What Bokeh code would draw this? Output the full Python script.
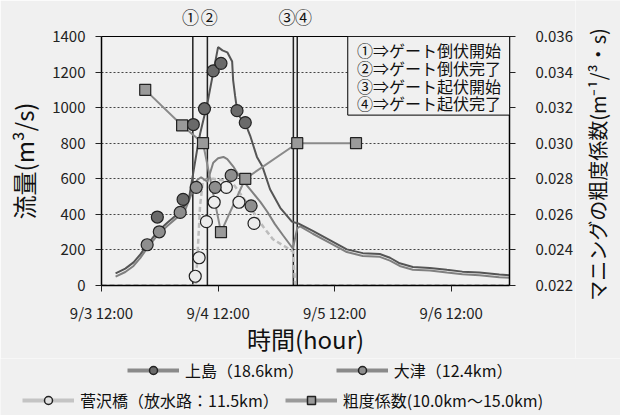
import math
from bokeh.plotting import figure
from bokeh.layouts import column, row
from bokeh.models import (Range1d, LinearAxis, FixedTicker, NumeralTickFormatter,
                          Label, BoxAnnotation, Legend, LegendItem)
from bokeh.embed import file_html
from bokeh.resources import INLINE

FONT = "Noto Sans CJK JP"
BG = "#f0f0f0"

# x = hours since 9/3 00:00
x_ticks = [12, 36, 60, 84]
x_tick_labels = ["9/3 12:00", "9/4 12:00", "9/5 12:00", "9/6 12:00"]
q_ticks = [0, 200, 400, 600, 800, 1000, 1200, 1400]
n_ticks = [0.022, 0.024, 0.026, 0.028, 0.030, 0.032, 0.034, 0.036]

gate_times = [30.8, 33.8, 51.5, 52.3]
gate_marks = ["①", "②", "③", "④"]
gate_notes = ["①⇒ゲート倒伏開始", "②⇒ゲート倒伏完了", "③⇒ゲート起伏開始", "④⇒ゲート起伏完了"]

series_names = ["上島（18.6km）", "大津（12.4km）", "菅沢橋（放水路：11.5km）", "粗度係数(10.0km～15.0km)"]
right_title = "マニングの粗度係数(m⁻¹/³・s)"

# computed discharge (lines)
kami_t = [14.9, 16.9, 18.6, 20.0, 21.4, 23.5, 25.6, 27.6, 29.3, 30.1, 30.9, 31.7, 32.3, 33.8, 35.0,
          36.0, 36.9, 37.9, 38.9, 39.1, 39.5, 39.9, 40.5, 41.6, 42.6, 44.0, 45.1, 46.7, 48.8, 51.2,
          52.5, 55.5, 59.0, 62.5, 65.8, 69.3, 71.4, 73.4, 76.1, 79.6, 83.1, 86.3, 89.8, 93.9, 96.0]
kami_q = [68, 95, 130, 175, 229, 302, 354, 401, 453, 505, 635, 765, 853, 1025, 1197,
          1340, 1322, 1311, 1259, 1155, 1067, 989, 947, 911, 843, 723, 671, 541, 437, 359,
          349, 307, 255, 203, 182, 177, 156, 125, 104, 99, 88, 78, 73, 62, 57]

otsu_t = [14.9, 16.9, 18.6, 20.0, 21.4, 23.5, 25.6, 27.6, 29.3, 30.7, 31.7, 32.5, 33.8, 35.0, 36.0,
          37.1, 37.9, 39.1, 40.5, 42.6, 44.7, 46.1, 47.7, 49.4, 51.4, 52.3, 52.9, 55.5, 59.0, 62.5,
          65.8, 69.3, 71.4, 73.4, 76.1, 79.6, 83.1, 86.3, 89.8, 93.9, 96.0]
otsu_q = [50, 76, 110, 155, 210, 282, 336, 383, 430, 526, 593, 609, 583, 690, 715,
          723, 710, 670, 610, 540, 470, 416, 345, 281, 208, 322, 333, 291, 240, 188,
          166, 161, 140, 110, 89, 84, 73, 63, 58, 47, 43]

suga_t = [12.0, 31.4, 31.8, 32.3, 32.9, 35.0, 37.1, 39.1, 41.0, 43.2, 45.3, 47.3, 49.4, 51.4, 51.9, 96.0]
suga_q = [0, 0, 190, 450, 593, 600, 590, 572, 500, 416, 330, 260, 225, 192, 0, 0]

# observed discharge (markers)
kami_obs_t = [23.5, 28.8, 30.9, 33.2, 35.0, 36.6, 39.9, 41.6]
kami_obs_q = [385, 484, 905, 994, 1207, 1249, 983, 916]
otsu_obs_t = [21.4, 23.9, 28.2, 31.5, 35.4, 38.7, 42.8]
otsu_obs_q = [229, 302, 411, 552, 552, 619, 448]
suga_obs_t = [31.3, 32.1, 33.6, 35.2, 37.7, 40.3, 43.4]
suga_obs_q = [52, 156, 359, 468, 552, 468, 349]

# Manning roughness (right axis)
rough_t = [21.0, 28.6, 32.9, 36.6, 41.6, 52.3, 64.4]
rough_n = [0.0330, 0.0310, 0.0300, 0.0250, 0.0280, 0.0300, 0.0300]


def no_frame_align(fig):
    if "frame_align" in fig.properties():
        fig.frame_align = False


PW, RW, H = 575, 45, 358
p = figure(width=PW, height=H, output_backend="svg", toolbar_location=None,
           x_range=Range1d(12, 96), y_range=Range1d(0, 1400),
           min_border_left=101, min_border_right=PW - 510, min_border_top=28, min_border_bottom=H - 297,
           background_fill_color=BG, border_fill_color=BG)
no_frame_align(p)
p.extra_y_ranges = {"n": Range1d(0.022, 0.036)}
p.outline_line_color = "black"
p.outline_line_width = 1

# axes
p.xaxis.ticker = FixedTicker(ticks=x_ticks)
p.xaxis.major_label_overrides = dict(zip(x_ticks, x_tick_labels))
p.xaxis.axis_label = "時間(hour)"
p.yaxis.ticker = FixedTicker(ticks=q_ticks)
p.yaxis.axis_label = "流量(m³/s)"
raxis = LinearAxis(y_range_name="n", ticker=FixedTicker(ticks=n_ticks),
                   formatter=NumeralTickFormatter(format="0.000"))
p.add_layout(raxis, "right")
for ax in [p.xaxis[0], p.yaxis[0], raxis]:
    ax.axis_line_color = "black"
    ax.axis_line_width = 1.5
    ax.major_tick_in = 0
    ax.major_tick_out = 6
    ax.major_tick_line_color = "#222"
    ax.minor_tick_line_color = None
    ax.major_label_text_font = FONT
    ax.major_label_text_font_size = "15px"
    ax.major_label_text_color = "#222"
    ax.major_label_standoff = 10
    ax.axis_label_text_font = FONT
    ax.axis_label_text_font_style = "normal"
    ax.axis_label_text_color = "#111"
p.xaxis.axis_label_text_font_size = "24px"
p.xaxis.axis_label_standoff = -5
p.yaxis.axis_label_text_font_size = "24px"
p.yaxis.axis_label_standoff = 8
raxis.major_label_standoff = 20

# gate marks above the frame
mark_offsets = [-0.5, 0.4, -1.3, 1.3]
top_axis = LinearAxis(ticker=FixedTicker(ticks=[t + o for t, o in zip(gate_times, mark_offsets)]))
top_axis.major_label_overrides = {t + o: m for t, o, m in zip(gate_times, mark_offsets, gate_marks)}
top_axis.axis_line_color = None
top_axis.major_tick_line_color = None
top_axis.minor_tick_line_color = None
top_axis.major_label_standoff = 2
top_axis.major_label_text_font = FONT
top_axis.major_label_text_font_size = "17px"
top_axis.major_label_text_color = "#111"
p.add_layout(top_axis, "above")

p.xgrid.visible = False
p.ygrid.ticker = FixedTicker(ticks=q_ticks)
p.ygrid.grid_line_color = "#444"
p.ygrid.grid_line_dash = "2 2"
p.ygrid.grid_line_width = 1

# gate timing lines
p.segment(x0=gate_times, y0=0, x1=gate_times, y1=1400, line_color="#222", line_width=1.5)

# lines
p.line(suga_t, suga_q, line_color="#bcbcbc", line_width=2.5, line_dash="5 3")
p.line(otsu_t, otsu_q, line_color="#808080", line_width=2)
p.line(kami_t, kami_q, line_color="#555555", line_width=2)
p.line(rough_t, rough_n, y_range_name="n", line_color="#8a8a8a", line_width=2)

# markers
p.scatter(suga_obs_t, suga_obs_q, marker="circle", size=12, fill_color="#ececec", line_color="#222", line_width=1.2)
p.scatter(otsu_obs_t, otsu_obs_q, marker="circle", size=12, fill_color="#8e8e8e", line_color="#222", line_width=1.2)
p.scatter(kami_obs_t, kami_obs_q, marker="circle", size=12, fill_color="#6a6a6a", line_color="#222", line_width=1.2)
p.scatter(rough_t, rough_n, y_range_name="n", marker="square", size=11, fill_color="#9a9a9a", line_color="#222", line_width=1.2)

# note box
p.add_layout(BoxAnnotation(left=62.7, right=96, bottom=958, top=1400, fill_color=BG, fill_alpha=1,
                           line_color="black", line_width=1, line_alpha=1))
for i, note in enumerate(gate_notes):
    p.add_layout(Label(x=64.6, y=1322 - i * 99, text=note, text_align="left", text_baseline="middle",
                       text_font=FONT, text_font_size="16px", text_color="#111"))

# right-axis title strip (reads bottom-to-top)
rf = figure(width=RW, height=H, output_backend="svg", toolbar_location=None,
            x_range=Range1d(0, RW), y_range=Range1d(0, H), x_axis_type=None, y_axis_type=None,
            min_border=0, background_fill_color=BG, border_fill_color=BG)
no_frame_align(rf)
rf.outline_line_color = None
rf.grid.visible = False
rf.add_layout(Label(x=22, y=H - 164, text=right_title, angle=math.pi / 2,
                    text_align="center", text_baseline="middle", text_font=FONT,
                    text_font_size="20px", text_color="#111"))

# legend strip below the chart
LW, LH = PW + RW, 57
lf = figure(width=LW, height=LH, output_backend="svg", toolbar_location=None,
            x_range=Range1d(0, LW), y_range=Range1d(0, LH), x_axis_type=None, y_axis_type=None,
            min_border=0, background_fill_color=BG, border_fill_color=BG)
no_frame_align(lf)
lf.outline_line_color = None
lf.grid.visible = False
lk_l = lf.line(kami_t, kami_q, line_color="#8a8a8a", line_width=4, visible=False)
lk_m = lf.scatter(kami_obs_t, kami_obs_q, marker="circle", size=16, fill_color="#6a6a6a", line_color="#222", line_width=1.5, visible=False)
lo_l = lf.line(otsu_t, otsu_q, line_color="#8a8a8a", line_width=4, visible=False)
lo_m = lf.scatter(otsu_obs_t, otsu_obs_q, marker="circle", size=16, fill_color="#8e8e8e", line_color="#222", line_width=1.5, visible=False)
ls_l = lf.line(suga_t, suga_q, line_color="#c4c4c4", line_width=4, visible=False)
ls_m = lf.scatter(suga_obs_t, suga_obs_q, marker="circle", size=16, fill_color="#e0e0e0", line_color="#222", line_width=1.5, visible=False)
lr_l = lf.line(rough_t, rough_n, line_color="#9a9a9a", line_width=4, visible=False)
lr_m = lf.scatter(rough_t, rough_n, marker="square", size=16, fill_color="#9a9a9a", line_color="#222", line_width=1.5, visible=False)


def make_legend(items, spacing, loc):
    return Legend(items=items, orientation="horizontal", location=loc, spacing=spacing,
                  glyph_width=52, glyph_height=20, label_height=20, label_standoff=6, padding=0, margin=0,
                  label_text_font=FONT, label_text_font_size="16px", label_text_color="#111",
                  border_line_alpha=0, background_fill_alpha=0)


leg1 = make_legend([LegendItem(label=series_names[0], renderers=[lk_l, lk_m]),
                    LegendItem(label=series_names[1], renderers=[lo_l, lo_m])], 32, (127, 33))
leg2 = make_legend([LegendItem(label=series_names[2], renderers=[ls_l, ls_m]),
                    LegendItem(label=series_names[3], renderers=[lr_l, lr_m])], 6, (22, 3))
lf.add_layout(leg1)
lf.add_layout(leg2)

layout = column(row(p, rf, spacing=0), lf, spacing=0)
open("out.html", "w").write(file_html(layout, INLINE))
